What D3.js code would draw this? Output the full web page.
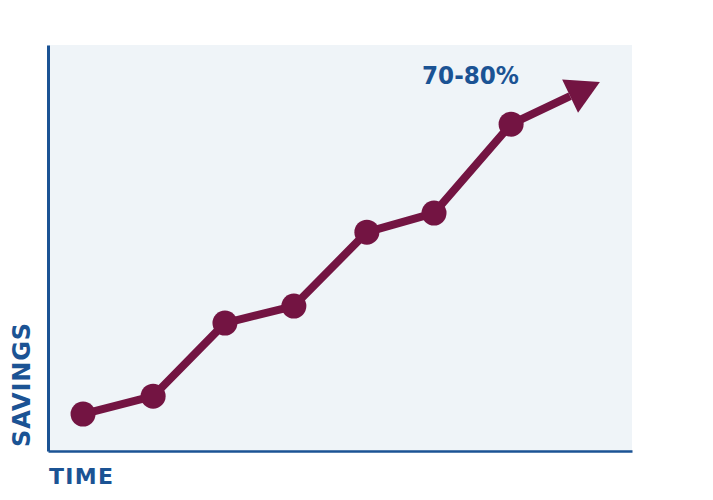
<!DOCTYPE html>
<html>
<head>
<meta charset="utf-8">
<script src="https://cdn.jsdelivr.net/npm/d3@7"></script>
<style>
  body { margin: 0; background: #fff; }
  text { font-family: "DejaVu Sans", sans-serif; font-weight: bold; fill: #1b5394; }
</style>
</head>
<body>
<div id="chart"></div>
<script>
// time position (0-100) and savings level (0-100) of each point
const time = [6.0, 18.0, 30.3, 42.1, 54.6, 66.1, 79.3];
const savings = [9.1, 13.5, 31.5, 35.7, 53.9, 58.6, 80.5];
// where the arrow ends up
const arrowTime = 94.5;
const arrowSavings = 90.9;
const label = "70-80%";
const xTitle = "TIME";
const yTitle = "SAVINGS";

const width = 713, height = 500;
const margin = {top: 45, right: 81, bottom: 49, left: 48};

const x = d3.scaleLinear()
  .domain([0, 100])
  .range([margin.left, width - margin.right]);

const y = d3.scaleLinear()
  .domain([0, 100])
  .range([height - margin.bottom, margin.top]);

const svg = d3.select("#chart")
  .append("svg")
  .attr("width", width)
  .attr("height", height);

// plot background
svg.append("rect")
  .attr("x", x(0))
  .attr("y", y(100))
  .attr("width", x(100) - x(0))
  .attr("height", y(0) - y(100))
  .attr("fill", "#eff4f8");

// axes: just the lines, no ticks
svg.append("g")
  .attr("transform", `translate(0,${y(0)})`)
  .call(d3.axisBottom(x).tickValues([]).tickSizeOuter(0))
  .call(g => g.select(".domain").attr("stroke", "#1b5394").attr("stroke-width", 2.5));

svg.append("g")
  .attr("transform", `translate(${x(0)},0)`)
  .call(d3.axisLeft(y).tickValues([]).tickSizeOuter(0))
  .call(g => g.select(".domain").attr("stroke", "#1b5394").attr("stroke-width", 3));

const pts = time.map((t, i) => [x(t), y(savings[i])]);
const last = pts[pts.length - 1];
const tip = [x(arrowTime), y(arrowSavings)];

// arrow head geometry
const dx = tip[0] - last[0], dy = tip[1] - last[1];
const len = Math.hypot(dx, dy);
const ux = dx / len, uy = dy / len;
const headLen = 33, headHalf = 18.5;
const base = [tip[0] - ux * headLen, tip[1] - uy * headLen];

const maroon = "#731442";

svg.append("path")
  .attr("d", d3.line()([...pts, base]))
  .attr("fill", "none")
  .attr("stroke", maroon)
  .attr("stroke-width", 8)
  .attr("stroke-linejoin", "round");

svg.append("path")
  .attr("d", d3.line()([
    tip,
    [base[0] - uy * headHalf, base[1] + ux * headHalf],
    [base[0] + uy * headHalf, base[1] - ux * headHalf]
  ]) + "Z")
  .attr("fill", maroon);

svg.selectAll(".dot")
  .data(pts)
  .enter().append("circle")
  .attr("class", "dot")
  .attr("cx", d => d[0])
  .attr("cy", d => d[1])
  .attr("r", 12.5)
  .attr("fill", maroon);

svg.append("text")
  .attr("x", 422)
  .attr("y", 84)
  .attr("font-size", 24.5)
  .attr("textLength", 97)
  .attr("lengthAdjust", "spacingAndGlyphs")
  .text(label);

svg.append("text")
  .attr("x", 49)
  .attr("y", 484)
  .attr("font-size", 22)
  .attr("textLength", 64)
  .attr("lengthAdjust", "spacing")
  .text(xTitle);

svg.append("text")
  .attr("transform", "translate(30,447) rotate(-90)")
  .attr("font-size", 24)
  .attr("textLength", 124)
  .attr("lengthAdjust", "spacing")
  .text(yTitle);
</script>
</body>
</html>
